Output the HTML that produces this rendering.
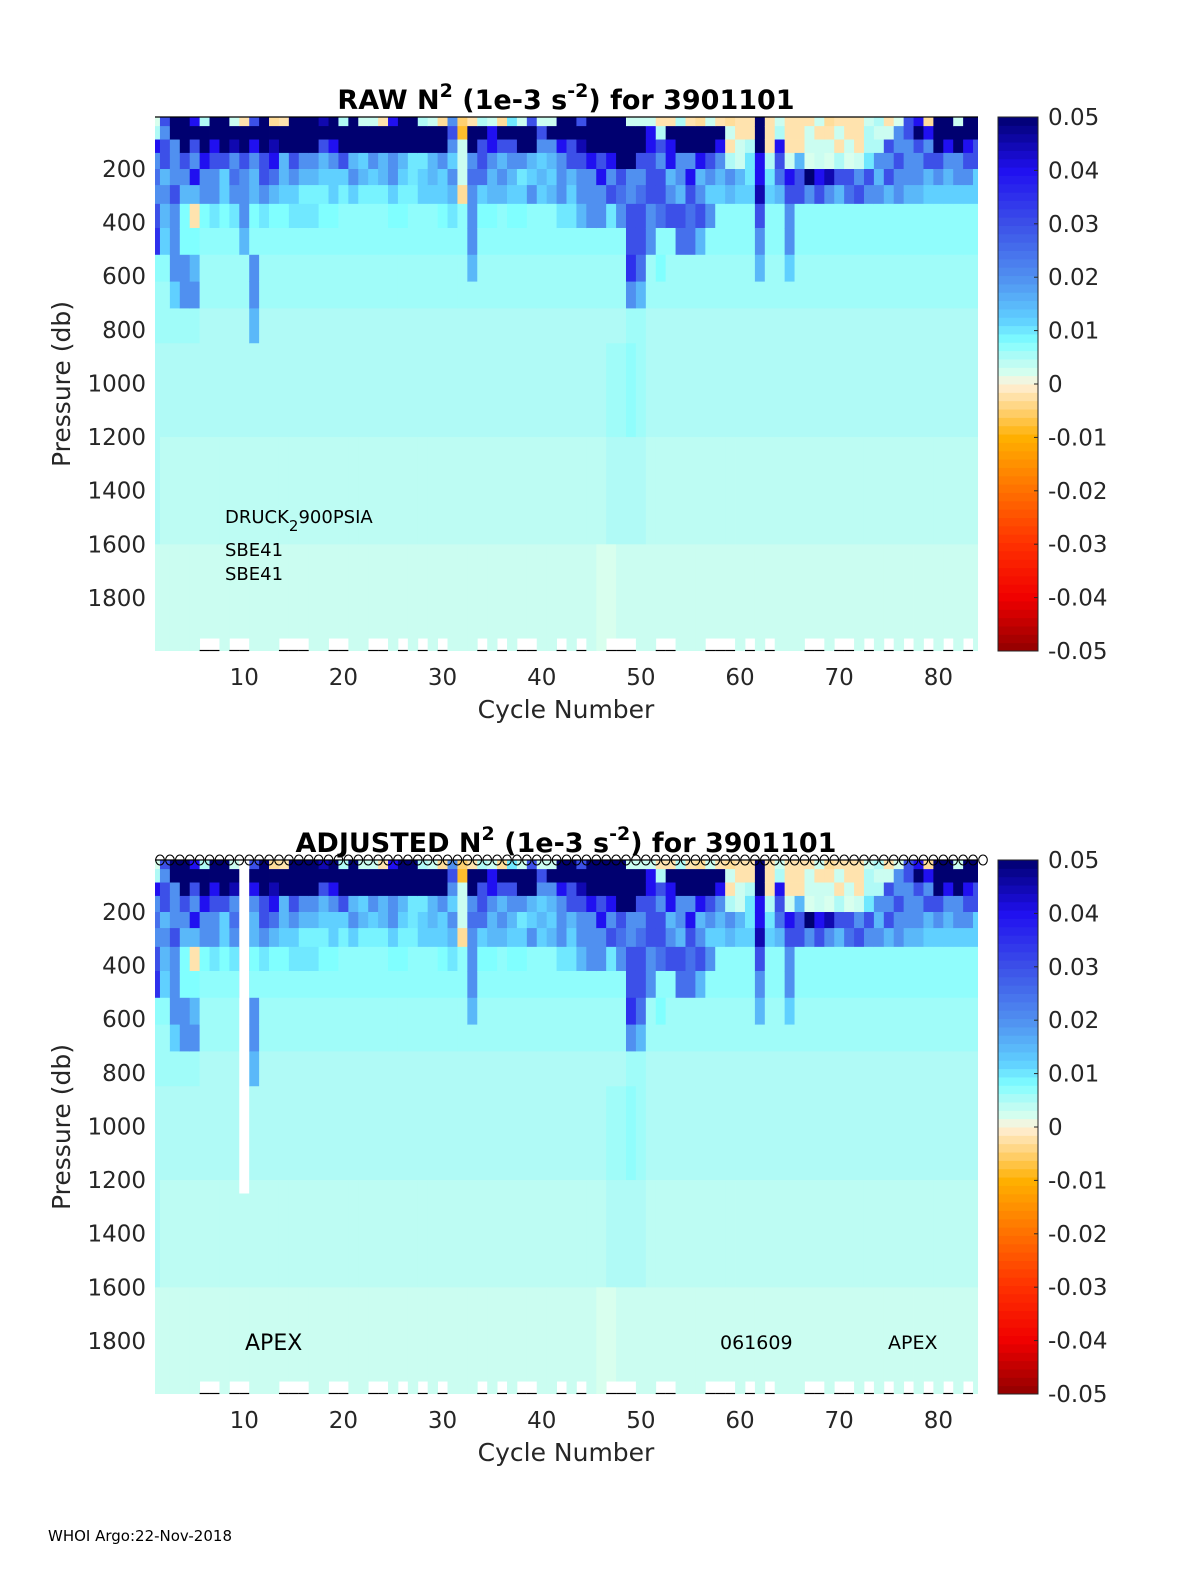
<!DOCTYPE html>
<html><head><meta charset="utf-8">
<style>
html,body{margin:0;padding:0;background:#fff;}
svg{display:block;font-family:"DejaVu Sans","Liberation Sans",sans-serif;}
</style></head>
<body>
<svg id="fig" width="1200" height="1575" viewBox="0 0 1200 1575" xmlns="http://www.w3.org/2000/svg">
<rect width="1200" height="1575" fill="#fff"/>
<text x="48" y="1541" font-size="15" fill="#000">WHOI Argo:22-Nov-2018</text>
</svg>
<script>
// ---- data (N^2 values in 1e-3 * 1e-3 units: 50 => 0.05) ----
const cycles = Array.from({length:84},(_,i)=>i+1);
const layerTops =    [6, 40, 90,140,200,260,330,420,520,620,720, 850,1200,1600];
const layerBottoms = [40,90,140,200,260,330,420,520,620,720,850,1200,1600,2000];
const L0 = [2,30,50,50,40,5,50,50,3,-2, 30,50,-3,-2,50,50,50,45,50,5, 50,3,3,-2,40,50,50,5,3,-3, 20,-5,-2,5,3,-3,10,3,30,3, 3,50,50,30,50,50,50,50,3,3, 3,-2,-2,5,-2,-3,3,-2,-3,-2, -2,50,-2,3,-2,-2,-2,3,-3,-2, -2,-2,3,5,-2,2,30,40,-3,50, 50,3,50,50];
const L1 = [5,20,50,50,50,50,50,50,50,50, 50,50,50,50,50,50,50,50,50,50, 50,50,50,50,50,50,50,50,50,50, 30,-8,50,50,40,50,50,50,50,30, 50,50,50,50,50,50,50,50,50,50, 40,5,50,50,50,50,50,50,3,-2, -2,50,-2,5,-2,-2,3,-2,-2,3, -2,-2,5,3,3,20,30,50,40,50, 50,50,50,50];
const L2 = [40,30,20,50,30,50,40,50,45,50, 40,50,45,50,50,50,50,30,40,50, 50,50,50,50,50,50,50,50,50,50, 20,3,50,30,40,30,30,50,50,20, 20,40,30,45,50,50,50,50,50,50, 40,30,40,50,50,50,50,40,-2,3, 5,50,-2,40,-2,-2,3,3,3,-2, 3,-2,5,5,30,20,20,30,20,50, 40,50,40,30];
const L3 = [20,30,20,30,20,40,30,30,20,30, 20,30,40,15,30,20,20,15,20,30, 15,12,20,15,20,15,10,10,15,20, 12,3,20,30,20,15,20,20,15,12, 15,20,30,30,40,30,40,50,50,30, 30,20,40,20,20,40,30,20,5,3, 10,40,5,30,3,15,2,3,2,5, 2,3,10,20,20,30,20,20,30,30, 20,20,30,30];
const L4 = [25,15,20,20,40,20,20,12,25,20, 15,30,25,15,20,15,15,12,12,12, 20,15,12,15,20,12,10,12,15,12, 20,3,25,25,15,20,15,10,12,15, 12,20,15,20,20,40,20,30,20,20, 30,30,15,20,40,15,20,15,20,15, 10,40,10,25,40,30,50,40,45,30, 30,20,30,15,30,20,20,20,15,20, 15,20,20,12];
const L5 = [20,20,30,15,15,20,20,12,20,20, 15,20,15,12,12,9,9,9,12,9, 12,9,9,9,12,9,9,12,12,12, 15,-3,20,12,15,15,12,12,20,12, 15,20,12,20,20,20,30,25,20,25, 30,30,20,15,30,20,12,12,15,12, 12,45,12,15,30,30,20,30,20,15, 25,30,20,20,15,20,15,15,12,12, 12,12,12,12];
const L6 = [30,15,20,8,-2,8,10,8,10,20, 8,10,8,8,10,10,10,8,8,7, 7,7,7,7,8,8,7,7,7,8, 10,7,20,8,8,7,8,8,7,7, 7,10,10,15,20,20,10,20,30,30, 20,25,30,30,25,30,20,7,7,7, 7,30,7,7,20,7,7,7,7,7, 7,7,7,7,7,7,7,7,7,7, 7,7,7,7];
const L7 = [35,12,20,8,8,7,7,7,7,15, 7,7,7,7,7,7,7,7,7,7, 7,7,7,7,7,7,7,7,7,7, 7,7,20,7,7,7,7,7,7,7, 7,7,7,7,7,7,7,7,30,30, 20,7,7,25,25,15,7,7,7,7, 7,20,7,7,20,7,7,7,7,7, 7,7,7,7,7,7,7,7,7,7, 7,7,7,7];
const L8 = [7,7,20,20,15,6,6,6,6,6, 20,6,6,6,6,6,6,6,6,6, 6,6,6,6,6,6,6,6,6,6, 6,6,15,6,6,6,6,6,6,6, 6,6,6,6,6,6,6,6,35,25, 6,8,6,6,6,6,6,6,6,6, 6,15,6,6,12,6,6,6,6,6, 6,6,6,6,6,6,6,6,6,6, 6,6,6,6];
const L9 = [6,6,12,20,20,6,6,6,6,6, 20,6,6,6,6,6,6,6,6,6, 6,6,6,6,6,6,6,6,6,6, 6,6,6,6,6,6,6,6,6,6, 6,6,6,6,6,6,6,6,20,15, 6,6,6,6,6,6,6,6,6,6, 6,6,6,6,6,6,6,6,6,6, 6,6,6,6,6,6,6,6,6,6, 6,6,6,6];
const L10 = [6,6,6,6,6,5,5,5,5,5, 15,5,5,5,5,5,5,5,5,5, 5,5,5,5,5,5,5,5,5,5, 5,5,5,5,5,5,5,5,5,5, 5,5,5,5,5,5,5,5,6,6, 5,5,5,5,5,5,5,5,5,5, 5,5,5,5,5,5,5,5,5,5, 5,5,5,5,5,5,5,5,5,5, 5,5,5,5];
const L11 = [5,5,5,5,5,5,5,5,5,5, 5,5,5,5,5,5,5,5,5,5, 5,5,5,5,5,5,5,5,5,5, 5,5,5,5,5,5,5,5,5,5, 5,5,5,5,5,5,6,6,7,6, 5,5,5,5,5,5,5,5,5,5, 5,5,5,5,5,5,5,5,5,5, 5,5,5,5,5,5,5,5,5,5, 5,5,5,5];
const L12 = [5,4,4,4,4,4,4,4,4,4, 4,4,4,4,4,4,4,4,4,4, 4,4,4,4,4,4,4,4,4,4, 4,4,4,4,4,4,4,4,4,4, 4,4,4,4,4,4,5,5,5,5, 4,4,4,4,4,4,4,4,4,4, 4,4,4,4,4,4,4,4,4,4, 4,4,4,4,4,4,4,4,4,4, 4,4,4,4];
const L13 = [3,3,3,3,3,3,3,3,3,3, 3,3,3,3,3,3,3,3,3,3, 3,3,3,3,3,3,3,3,3,3, 3,3,3,3,3,3,3,3,3,3, 3,3,3,3,3,2,2,3,3,3, 3,3,3,3,3,3,3,3,3,3, 3,3,3,3,3,3,3,3,3,3, 3,3,3,3,3,3,3,3,3,3, 3,3,3,3];
const layers = [L0,L1,L2,L3,L4,L5,L6,L7,L8,L9,L10,L11,L12,L13];
const shortCycles = [6,7,9,10,14,15,16,19,20,23,24,26,28,30,34,36,38,39,42,44,47,48,49,52,53,57,58,59,61,63,67,68,70,71,73,75,77,79,81,83];
const shortBottom = 1950;
const adjGapCycle = [10];
const adjGapBottom = 1250;
const xTicks = [10,20,30,40,50,60,70,80];
const yTicks = [200,400,600,800,1000,1200,1400,1600,1800];
const cbTicks = [0.05,0.04,0.03,0.02,0.01,0,-0.01,-0.02,-0.03,-0.04,-0.05];
const cbLabels = ["0.05","0.04","0.03","0.02","0.01","0","-0.01","-0.02","-0.03","-0.04","-0.05"];

// ---- colormap ----
const stops = [[-50,[144,0,0]],[-40,[240,0,0]],[-30,[255,48,0]],[-20,[255,112,0]],[-10,[255,176,0]],[-5,[255,208,112]],[0,[255,240,216]],[2,[216,255,238]],[5,[176,250,246]],[8,[128,255,255]],[12,[96,208,255]],[20,[80,144,240]],[30,[60,80,232]],[40,[32,16,240]],[50,[0,0,112]]];
function cmap(v){
  v=Math.max(-50,Math.min(50,v));
  for(let i=0;i<stops.length-1;i++){
    const a=stops[i],b=stops[i+1];
    if(v<=b[0]){const t=(v-a[0])/(b[0]-a[0]);
      const c=a[1].map((x,k)=>Math.round(x+(b[1][k]-x)*t));
      return `rgb(${c[0]},${c[1]},${c[2]})`;}
  }
  return 'rgb(0,0,112)';
}
const NS='http://www.w3.org/2000/svg';
const svg=document.getElementById('fig');
function el(tag,attrs,parent){const e=document.createElementNS(NS,tag);for(const k in attrs)e.setAttribute(k,attrs[k]);(parent||svg).appendChild(e);return e;}

const PX0=155, PX1=978, CB0=998, CB1=1038;
function panel(top, adjusted, title, name){
  const bot=top+534;
  const X=v=>PX0+(v-1)/83*(PX1-PX0);
  const Y=p=>top+(p-6)/1992*(bot-top);
  const g=el('g',{});
  
  
  const clip=el('clipPath',{id:'clip'+top},g);
  el('rect',{x:PX0,y:top,width:PX1-PX0,height:bot-top},clip);
  const hm=el('g',{'clip-path':`url(#clip${top})`},g);
  
  
  cycles.forEach((c,i)=>{
    const maxP = shortCycles.includes(c)?shortBottom:2000;
    const x0=X(c-0.5), x1=X(c+0.5);
    layers.forEach((L,j)=>{
      const p0=layerTops[j], p1=Math.min(layerBottoms[j],maxP);
      if(p1<=p0) return;
      const r=el('rect',{x:x0.toFixed(2),y:Y(p0).toFixed(2),width:(x1-x0+0.4).toFixed(2),height:(Y(p1)-Y(p0)+0.4).toFixed(2),fill:cmap(L[i])},hm);
      
      
    });
    if(maxP<2000){
      const s=el('line',{x1:x0,x2:x1,y1:bot-0.5,y2:bot-0.5,stroke:'#000','stroke-width':1.2},g);
      
      
    }
  });
  if(adjusted){
    adjGapCycle.forEach(c=>{
      const w=el('rect',{x:X(c-0.5),y:Y(6),width:X(c+0.5)-X(c-0.5),height:Y(adjGapBottom)-Y(6),fill:'#fff'},hm);
      
      
    });
  }
  const tl=el('line',{x1:PX0,x2:PX1,y1:top,y2:top,stroke:'#000','stroke-width':1.2},g);
  
  
  if(adjusted){
    cycles.forEach(c=>{
      const o=el('ellipse',{cx:X(c)+5,cy:top,rx:4.3,ry:5,fill:'none',stroke:'#000','stroke-width':1.1},g);
      
      
    });
  }
  const t=el('text',{x:566,y:top-8,'font-size':27,'font-weight':'bold','text-anchor':'middle'},g);
  
  
  t.innerHTML=title+' N<tspan dy="-12" font-size="19">2</tspan><tspan dy="12"> (1e-3 s</tspan><tspan dy="-12" font-size="19">-2</tspan><tspan dy="12">) for 3901101</tspan>';
  xTicks.forEach(v=>{
    const tx=el('text',{x:X(v),y:bot+34,'font-size':23,'text-anchor':'middle',fill:'#262626'},g);
    
    
    tx.textContent=v;
  });
  yTicks.forEach(v=>{
    const ty=el('text',{x:146,y:Y(v)+8,'font-size':23,'text-anchor':'end',fill:'#262626'},g);
    
    
    ty.textContent=v;
  });
  const xt=el('text',{x:566,y:bot+67,'font-size':25,'text-anchor':'middle',fill:'#262626'},g);
  
  
  xt.textContent='Cycle Number';
  const yt=el('text',{x:0,y:0,'font-size':25,'text-anchor':'middle',fill:'#262626',transform:`translate(70,${(top+bot)/2}) rotate(-90)`},g);
  
  
  yt.textContent='Pressure (db)';
  const cb=el('g',{},g);
  
  
  const N=64;
  for(let k=0;k<N;k++){
    const v=-50+(k+0.5)*100/N;
    const y1=bot-(k+1)*(bot-top)/N;
    el('rect',{x:CB0,y:y1.toFixed(2),width:CB1-CB0,height:((bot-top)/N+0.5).toFixed(2),fill:cmap(v)},cb);
  }
  el('rect',{x:CB0,y:top,width:CB1-CB0,height:bot-top,fill:'none',stroke:'#262626','stroke-width':1},cb);
  cbTicks.forEach((v,k)=>{
    const y=top+(0.05-v)/0.1*(bot-top);
    el('line',{x1:CB1-4,x2:CB1,y1:y,y2:y,stroke:'#262626'},cb);
    const lt=el('text',{x:1048,y:y+8,'font-size':23,fill:'#262626'},cb);
    
    
    lt.textContent=cbLabels[k];
  });
  return g;
}
panel(117,false,'RAW','raw-panel');
panel(860,true,'ADJUSTED','adjusted-panel');

function ann(x,y,s,txt,name){
  const a=el('text',{x:x,y:y,'font-size':s,fill:'#000'});
  
  
  a.innerHTML=txt;
}
ann(225,523,18,'DRUCK<tspan dy="8" font-size="15">2</tspan><tspan dy="-8">900PSIA</tspan>','sensor-label');
ann(225,556,18,'SBE41','sensor-label');
ann(225,580,18,'SBE41','sensor-label');
ann(245,1350,22,'APEX','float-type-label');
ann(720,1349,19,'061609','serial-label');
ann(888,1349,19,'APEX','platform-label');
</script>
</body></html>
